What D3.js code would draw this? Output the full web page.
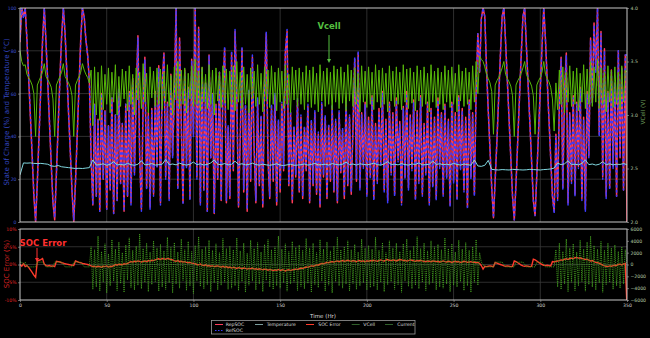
<!DOCTYPE html>
<html><head><meta charset="utf-8">
<script src="https://cdn.jsdelivr.net/npm/d3@7"></script>
<style>body{margin:0;background:#000}svg{display:block}text{font-family:"DejaVu Sans",sans-serif}</style>
</head><body><svg id="c" width="650" height="338"></svg>
<script>
// ---- DATA (hourly samples unless noted) ----
const refSOC=[85,100,95,100,86,68,50,32,14,1,18,40,62,84,100,84,66,47,28,10,2,22,44,66,86,100,88,70,51,33,15,1,18,40,62,84,100,96,85,78,66,
30,8,55,12,48,5,60,20,52,6,45,15,58,4,50,10,62,18,46,5,55,12,
60,8,66,22,58,86,30,5,55,76,15,50,6,
52,12,60,25,72,8,64,78,20,55,10,68,30,
60,100,15,85,45,8,70,25,62,10,75,40,100,20,90,8,
72,15,65,5,78,30,60,4,55,20,70,10,62,
82,10,45,12,80,25,90,60,8,40,82,15,55,6,
62,20,78,35,10,58,18,50,8,65,89,30,12,55,20,60,9,48,15,56,25,80,90,18,52,10,45,22,58,
15,50,12,45,25,55,10,48,18,52,14,42,8,56,22,50,12,46,20,55,15,48,10,52,24,44,12,58,18,50,14,45,77,20,80,
15,50,25,55,12,48,20,58,10,45,18,52,26,60,14,47,9,55,22,50,12,57,28,46,8,53,20,60,15,49,24,56,10,51,18,58,12,45,22,55,8,52,16,48,10,57,25,50,12,54,20,47,7,55,18,50,10,58,24,52,14,48,6,56,20,50,12,60,88,70,
95,100,96,72,52,34,16,2,20,38,58,78,96,100,84,66,48,30,12,1,18,38,58,78,96,100,82,64,46,28,10,3,22,42,62,82,100,85,66,48,30,12,4,
40,10,55,76,15,60,78,8,50,18,58,12,55,25,62,10,48,5,60,30,85,55,92,70,100,40,88,20,80,11,60,15,70,25,65,12,80,30,72,15,78,78];

const repSOC=[84,100,96,100,85,67,49,31,12,0,19,41,63,85,100,84,65,46,27,9,1,23,45,67,87,100,88,70,51,33,14,0,19,41,63,85,100,96,85,78,66,
30,8,55,12,48,5,60,20,52,6,45,15,58,4,50,10,62,18,46,5,55,12,
61,9,67,23,59,87,31,6,56,77,16,51,7,
53,13,61,26,73,9,65,79,21,56,11,69,31,
61,100,16,86,46,9,71,26,63,11,76,41,100,21,91,9,
72,15,65,5,78,30,60,4,55,20,70,10,62,
81,9,44,11,79,24,89,59,7,39,81,14,54,5,
61,19,77,34,9,57,17,49,7,64,88,29,11,54,19,59,8,47,14,55,24,79,89,17,51,9,44,21,57,
14,49,11,44,24,54,9,47,17,51,13,41,7,55,21,49,11,45,19,54,14,47,9,51,23,43,11,57,17,49,13,44,76,19,79,
16,51,26,56,13,49,21,59,11,46,19,53,27,61,15,48,10,56,23,51,13,58,29,47,9,54,21,61,16,50,25,57,11,52,19,59,13,46,23,56,9,53,17,49,11,58,26,51,13,55,21,48,8,56,19,51,11,59,25,53,15,49,7,57,21,51,13,61,88,70,
95,100,96,72,52,34,16,2,20,38,58,78,96,100,84,66,48,30,12,1,18,38,58,78,96,100,82,64,46,28,10,3,22,42,62,82,100,85,66,48,30,12,5,
41,11,56,77,16,61,79,9,51,19,59,13,56,26,63,11,49,6,61,31,86,56,93,71,100,41,89,21,81,12,61,16,71,26,65,12,80,30,72,15,78,0];

const vCell=[3.6,3.5,3.46,3.47,3.38,3.35,3.32,3.28,3.2,2.8,3.28,3.32,3.36,3.4,3.48,3.36,3.33,3.3,3.26,3.15,2.8,3.28,3.32,3.36,3.4,3.48,3.36,3.33,3.3,3.26,3.18,2.8,3.28,3.32,3.36,3.4,3.48,3.42,3.38,3.35,3.3,
3.42,2.9,3.45,3.0,3.4,2.95,3.46,3.05,3.38,3.1,3.44,3.02,3.4,3.12,3.47,3.0,3.36,3.08,3.43,3.15,3.41,3.04,3.46,3.1,3.38,3.0,3.44,3.14,3.4,3.06,3.48,3.12,3.39,3.02,3.45,3.16,3.41,3.08,3.44,3.1,
3.43,3.05,3.4,3.12,3.47,3.08,3.37,3.0,3.45,3.14,3.5,3.06,3.42,3.1,3.44,3.02,3.39,3.15,3.46,3.08,3.52,3.1,3.41,3.04,3.45,3.12,3.38,3.06,3.47,3.1,3.42,3.0,3.44,3.13,3.4,3.07,3.46,3.11,3.43,3.05,
3.41,3.1,3.46,3.04,3.5,3.12,3.4,3.06,3.45,3.1,3.38,3.02,3.44,3.15,3.41,3.08,3.47,3.1,3.39,3.03,3.45,3.13,3.42,3.07,3.46,3.1,3.4,3.04,3.44,3.12,3.41,3.06,3.47,3.1,3.38,3.02,3.45,3.14,3.42,3.08,
3.44,3.1,3.4,3.05,3.46,3.12,3.42,3.07,3.45,3.1,3.39,3.03,3.47,3.13,3.41,3.08,3.44,3.1,3.4,3.05,3.46,3.12,3.43,3.06,3.45,3.11,3.4,3.04,3.47,3.13,3.42,3.08,3.44,3.1,3.39,3.03,3.46,3.12,3.41,3.07,
3.45,3.1,3.4,3.05,3.47,3.12,3.42,3.07,3.44,3.1,3.39,3.03,3.46,3.13,3.41,3.08,3.45,3.1,3.4,3.05,3.47,3.12,3.43,3.06,3.44,3.11,3.4,3.04,3.46,3.13,3.42,3.08,3.45,3.1,3.39,3.03,3.47,3.12,3.41,3.07,
3.44,3.1,3.4,3.05,3.46,3.12,3.42,3.07,3.45,3.1,3.39,3.03,3.47,3.13,3.41,3.08,3.44,3.1,3.4,3.05,3.46,3.12,3.5,3.2,3.55,
3.52,3.5,3.45,3.38,3.34,3.3,3.22,2.82,3.28,3.32,3.35,3.39,3.44,3.5,3.38,3.34,3.31,3.27,3.18,2.8,3.28,3.32,3.35,3.39,3.44,3.5,3.38,3.34,3.31,3.27,3.18,2.82,3.28,3.32,3.35,3.4,3.5,3.38,3.34,3.31,3.26,3.15,2.85,
3.3,3.05,3.42,3.1,3.45,3.02,3.4,3.12,3.46,3.08,3.41,3.1,3.44,3.04,3.39,3.12,3.47,3.06,3.43,3.1,3.5,3.08,3.45,3.12,3.52,3.06,3.44,3.1,3.4,3.03,3.46,3.12,3.42,3.07,3.45,3.1,3.4,3.05,3.46,3.12,3.42,3.4];

// temperature sampled every 2 h
const temperature=[22,27.6,27.5,27.6,27.4,27.3,27.4,27.2,27.0,26.2,26.0,26.4,25.8,25.6,25.4,25.2,25.0,25.1,25.0,25.2,25.4,
29.0,26.6,26.8,27.2,26.5,27.0,28.2,26.7,26.9,26.6,27.4,26.8,26.5,27.0,28.6,26.7,26.9,27.3,26.6,26.8,
27.0,29.2,26.8,27.1,26.7,27.5,26.9,26.6,27.0,28.0,26.8,27.2,26.6,26.9,27.6,29.0,27.0,26.8,27.3,26.7,
27.0,28.4,26.9,27.2,26.7,26.9,27.5,26.8,26.6,27.0,26.7,26.5,26.8,27.2,26.6,26.4,26.7,27.0,26.5,26.6,
26.8,27.1,26.6,26.9,27.4,26.7,26.8,27.0,26.6,27.3,26.9,26.7,27.0,28.0,26.8,27.1,26.6,27.2,26.9,26.7,
27.0,27.5,26.8,26.6,27.2,28.2,26.9,27.0,26.7,27.3,26.8,26.6,27.1,26.9,27.6,26.7,26.8,27.0,28.5,26.9,
27.2,26.8,27.0,26.7,27.4,26.9,26.6,27.1,26.8,26.5,29.0,26.2,
26.0,26.5,28.8,24.6,24.4,24.3,24.5,24.4,24.3,24.6,24.5,24.4,24.3,24.4,24.6,24.5,24.4,24.3,24.5,24.6,24.8,25.2,
27.5,26.8,27.2,28.6,26.9,27.0,26.7,27.4,29.0,26.8,27.1,26.6,27.0,28.2,26.8,27.2,26.7,27.0,26.9,27.3,26.8];

const current=[400,400,0,400,-400,-400,-400,-400,-400,-400,400,400,400,400,0,-400,-400,-400,-400,-400,400,400,400,400,400,0,-400,-400,-400,-400,-400,400,400,400,400,400,0,-400,-400,-400,-400,
3000,-4200,2500,-3800,4800,-4500,2200,-3000,3500,-4800,1800,-3600,4200,-2800,2600,-4400,3800,-3200,2000,-4700,3300,-2600,4500,-3900,2400,-4300,3100,-3500,5200,-4100,2700,-3000,3600,-4600,2100,-3400,4000,-2900,2800,-4500,
3400,-3800,2300,-4200,4600,-3100,2900,-4800,3700,-3300,2100,-4000,4300,-2700,2500,-4400,3900,-3600,2200,-4900,3200,-2800,4700,-3700,2600,-4100,3000,-3400,4100,-4600,2400,-3100,3500,-4300,2000,-3500,4400,-3000,2700,-4200,
3100,-4000,2500,-3600,4500,-4400,2300,-2900,3600,-4700,1900,-3500,4100,-2800,2700,-4300,3700,-3300,2100,-4600,3400,-2700,4200,-3800,2500,-4200,3000,-3600,4800,-4000,2600,-3100,3500,-4500,2200,-3300,3900,-3000,2900,-4400,
3300,-3700,2400,-4100,4400,-3200,2800,-4700,3600,-3400,2000,-3900,4200,-2800,2600,-4500,3800,-3500,2300,-4800,3100,-2900,4600,-3600,2500,-4000,3000,-3300,4000,-4500,2500,-3200,3400,-4200,2100,-3600,4300,-3100,2800,-4300,
3200,-3900,2600,-3700,4600,-4300,2400,-3000,3700,-4600,2000,-3400,4000,-2900,2800,-4200,3600,-3400,2200,-4700,3500,-2800,4300,-3700,2400,-4100,3100,-3500,4700,-4100,2700,-3000,3600,-4400,2300,-3400,4000,-3100,3000,-4300,
3400,-3800,2500,-4000,4500,-3300,2700,-4600,3500,-3500,2100,-3800,4100,-2900,2600,-4400,3700,-3600,2400,-4700,3000,-3000,4200,-3500,2000,
400,0,-400,-400,-400,-400,-400,-400,400,400,400,400,400,0,-400,-400,-400,-400,-400,-400,400,400,400,400,400,0,-400,-400,-400,-400,-400,-400,400,400,400,400,0,-400,-400,-400,-400,-400,-400,
2500,-3800,3600,-4200,2200,-3300,4300,-4600,2800,-3000,3500,-4400,2100,-3600,4100,-2900,2600,-4500,3800,-3400,4800,-3800,3200,-4300,2600,-3100,3900,-4700,2400,-3400,3600,-3000,2800,-4200,3300,-3600,2200,-4000,3000,-3300,2500,0];

const socError=[0,-0.5,0.2,-0.6,-0.3,-0.8,-1.5,-2.2,-3.0,-3.6,1.0,1.2,1.4,1.7,0.1,-0.3,-0.4,-0.3,-0.5,-0.4,-0.6,0.9,0.8,0.7,0.5,0.4,0.2,0.1,0.0,-0.1,-0.2,-0.3,1.0,0.8,0.6,0.5,0.3,0.2,0.1,0.0,-0.2,
-0.4,-0.6,-0.5,-0.7,-0.5,-0.6,-0.8,-0.5,-0.6,-0.4,-0.7,-0.5,-0.6,-0.3,
0.0,-0.2,0.1,0.0,-0.1,0.2,0.1,0.3,
0.6,0.8,0.7,0.9,0.8,1.0,0.9,0.7,0.9,1.0,0.8,1.1,1.0,1.2,1.1,1.3,
1.5,1.6,1.4,1.7,1.6,1.5,1.7,1.6,1.4,1.3,
1.0,0.9,1.1,0.8,0.9,0.7,0.8,0.6,0.5,0.6,0.4,0.3,
0.2,0.0,-0.1,0.1,-0.2,-0.3,-0.1,-0.4,-0.3,-0.5,-0.4,-0.6,-0.5,-0.4,-0.6,
-0.7,-0.5,-0.8,-0.6,-0.9,-0.7,-1.0,-0.8,-0.9,-1.1,-0.9,-1.0,-1.2,-1.0,-1.1,-1.3,-1.1,-1.2,-1.0,-1.3,-1.2,-1.4,-1.2,-1.3,-1.5,
-1.3,-1.4,-1.6,-1.4,-1.5,-1.7,-1.5,-1.6,-1.4,-1.7,-1.5,-1.6,-1.8,-1.6,-1.5,-1.7,-1.5,-1.4,-1.3,-1.4,
-1.2,-1.0,-1.1,-0.9,-0.7,-0.8,-0.6,-0.4,-0.5,-0.3,-0.1,-0.2,0.1,0.3,0.2,0.4,0.6,0.5,0.7,0.8,
0.7,0.9,1.0,0.8,1.0,1.1,0.9,1.0,1.2,1.0,0.9,1.1,1.0,0.8,1.0,1.1,0.9,1.0,0.8,1.0,
0.9,1.1,1.0,1.2,1.0,0.9,1.1,1.3,1.1,1.0,1.2,1.4,1.2,1.1,1.3,1.2,1.0,1.2,1.4,1.3,1.1,1.2,1.0,1.1,1.3,1.2,1.0,0.9,1.1,1.0,1.2,1.0,0.9,0.8,1.0,0.9,0.8,1.0,0.9,0.8,
0.9,0.7,0.8,1.0,0.8,0.7,0.9,0.8,0.6,0.8,0.9,0.7,0.8,0.6,0.7,0.9,0.8,0.6,0.7,0.8,0.6,0.7,0.5,0.6,0.3,
-0.3,-1.3,-0.5,-0.6,-0.5,-0.4,-0.5,-0.6,0.6,0.4,0.2,0.0,-0.2,-0.4,-0.5,-0.4,-0.5,-0.6,-0.5,1.0,0.8,0.5,0.2,-0.2,-0.4,-0.5,-0.4,-0.5,-0.6,-0.5,1.5,1.3,1.0,0.6,0.3,0.0,-0.2,-0.3,-0.2,-0.3,-0.4,0.8,0.7,
0.9,1.0,1.1,1.3,1.2,1.5,1.6,1.4,1.7,1.8,1.6,1.9,2.0,1.8,1.9,1.7,1.6,1.4,1.5,1.2,1.0,1.1,0.8,0.6,0.5,0.3,0.1,-0.2,-0.4,-0.5,-0.6,-0.4,-0.5,-0.3,-0.2,-0.3,0.0,0.1,-0.1,0.2,0.3,-12];

const timeTicks=[0,50,100,150,200,250,300,350];
const socTicks=[0,20,40,60,80,100];
const vTicks=[2.0,2.5,3.0,3.5,4.0];
const errTicks=[-10,-5,0,5,10];
const curTicks=[-6000,-4000,-2000,0,2000,4000,6000];
const legendLabels=["RepSOC","Temperature","SOC Error","VCell","Current","RefSOC"];
const HOUR_STEP=1, TEMP_STEP=2;

// ---- DRAW ----
const svg=d3.select("#c");
svg.append("rect").attr("width",650).attr("height",338).attr("fill","#000");
const x=d3.scaleLinear().domain([0,350]).range([20,627]);
const ySoc=d3.scaleLinear().domain([0,100]).range([222,8]);
const yV=d3.scaleLinear().domain([2,4]).range([222,8]);
const yErr=d3.scaleLinear().domain([-10,10]).range([300,229]);
const yCur=d3.scaleLinear().domain([-6000,6000]).range([300,229]);

const defs=svg.append("defs");
defs.append("clipPath").attr("id","cTop").append("rect").attr("x",20).attr("y",8).attr("width",607).attr("height",214);
defs.append("clipPath").attr("id","cBot").append("rect").attr("x",20).attr("y",229).attr("width",607).attr("height",71);

const gridC="#3a3a3a";
const gGridTop=svg.append("g");
gGridTop.selectAll(".v").data(timeTicks.slice(1,-1)).enter().append("line")
 .attr("x1",d=>x(d)).attr("x2",d=>x(d)).attr("y1",8).attr("y2",222).attr("stroke",gridC).attr("stroke-width",0.8);
gGridTop.selectAll(".h").data(socTicks.slice(1,-1)).enter().append("line")
 .attr("x1",20).attr("x2",627).attr("y1",d=>ySoc(d)).attr("y2",d=>ySoc(d)).attr("stroke",gridC).attr("stroke-width",0.8);
const gGridBot=svg.append("g");
gGridBot.selectAll(".v").data(timeTicks.slice(1,-1)).enter().append("line")
 .attr("x1",d=>x(d)).attr("x2",d=>x(d)).attr("y1",229).attr("y2",300).attr("stroke",gridC).attr("stroke-width",0.8);
gGridBot.selectAll(".h").data(errTicks.slice(1,-1)).enter().append("line")
 .attr("x1",20).attr("x2",627).attr("y1",d=>yErr(d)).attr("y2",d=>yErr(d)).attr("stroke",gridC).attr("stroke-width",0.8);

function lineGen(scale,step){return d3.line().x((d,i)=>x(i*step)).y(d=>scale(d));}
const gTopLines=svg.append("g").attr("clip-path","url(#cTop)");
gTopLines.append("path").attr("d",lineGen(ySoc,HOUR_STEP)(repSOC)).attr("fill","none").attr("stroke","#ff3c5a").attr("stroke-width",1.5).attr("stroke-linejoin","round");
gTopLines.append("path").attr("d",lineGen(ySoc,HOUR_STEP)(refSOC)).attr("fill","none").attr("stroke","#3c3cff").attr("stroke-width",1.5).attr("stroke-dasharray","2.5,2.5").attr("stroke-linejoin","round");
gTopLines.append("path").attr("d",lineGen(ySoc,TEMP_STEP)(temperature)).attr("fill","none").attr("stroke","#80d8e0").attr("stroke-width",1);
gTopLines.append("path").attr("d",lineGen(yV,HOUR_STEP)(vCell)).attr("fill","none").attr("stroke","#56b80a").attr("stroke-width",1).attr("stroke-linejoin","round");

const gBotLines=svg.append("g").attr("clip-path","url(#cBot)");
gBotLines.append("path").attr("d",lineGen(yErr,HOUR_STEP)(socError)).attr("fill","none").attr("stroke","#ff3b2b").attr("stroke-width",1.4);
gBotLines.append("path").attr("d",lineGen(yCur,HOUR_STEP)(current)).attr("fill","none").attr("stroke","#45a420").attr("stroke-width",0.9).attr("stroke-dasharray","1,0.9");

svg.append("rect").attr("x",20).attr("y",8).attr("width",607).attr("height",214).attr("fill","none").attr("stroke","#c8c8c8").attr("stroke-width",1);
svg.append("rect").attr("x",20).attr("y",229).attr("width",607).attr("height",71).attr("fill","none").attr("stroke","#c8c8c8").attr("stroke-width",1);

function styleAxis(g,color){
  g.select(".domain").remove();
  g.selectAll(".tick line").attr("stroke","#aaa").attr("stroke-width",0.6);
  g.selectAll(".tick text").attr("fill",color).attr("font-size",4.6).attr("font-family","DejaVu Sans");
}
styleAxis(svg.append("g").attr("transform","translate(20,0)").call(d3.axisLeft(ySoc).tickValues(socTicks).tickSize(2).tickPadding(1.5).tickFormat(d3.format("d"))),"#3b4fd0");
styleAxis(svg.append("g").attr("transform","translate(627,0)").call(d3.axisRight(yV).tickValues(vTicks).tickSize(2).tickPadding(1.5).tickFormat(d3.format(".1f"))),"#b4c8a4");
styleAxis(svg.append("g").attr("transform","translate(20,0)").call(d3.axisLeft(yErr).tickValues(errTicks).tickSize(2).tickPadding(1.5).tickFormat(d=>d+"%")),"#e02424");
styleAxis(svg.append("g").attr("transform","translate(627,0)").call(d3.axisRight(yCur).tickValues(curTicks).tickSize(2).tickPadding(1.5).tickFormat(d=>d<0?"\u2212"+Math.abs(d):String(d))),"#b4c8a4");
styleAxis(svg.append("g").attr("transform","translate(0,300)").call(d3.axisBottom(x).tickValues(timeTicks).tickSize(2).tickPadding(1.5).tickFormat(d3.format("d"))),"#d0d0d0");

svg.append("text").attr("x",323).attr("y",318).attr("text-anchor","middle").attr("font-size",5.5).attr("fill","#dddddd").text("Time (Hr)");
svg.append("text").attr("transform","translate(9,112) rotate(-90)").attr("text-anchor","middle").attr("font-size",7).attr("fill","#3447c0").text("State of Charge (%) and Temperature (°C)");
svg.append("text").attr("transform","translate(9,264) rotate(-90)").attr("text-anchor","middle").attr("font-size",7).attr("fill","#d42020").text("SOC Error (%)");
svg.append("text").attr("transform","translate(645,112) rotate(-90)").attr("text-anchor","middle").attr("font-size",5.8).attr("fill","#6a9a5a").text("VCell (V)");

function arrow(x0,y0,y1,color){
  svg.append("line").attr("x1",x0).attr("x2",x0).attr("y1",y0).attr("y2",y1-3).attr("stroke",color).attr("stroke-width",1);
  svg.append("path").attr("d",`M${x0-2},${y1-4} L${x0+2},${y1-4} L${x0},${y1} Z`).attr("fill",color);
}
svg.append("text").attr("x",329).attr("y",29).attr("text-anchor","middle").attr("font-family","Liberation Sans").attr("font-weight","bold").attr("font-size",8.5).attr("fill","#55c040").text("Vcell");
arrow(329,35,63,"#55c040");
svg.append("text").attr("x",43).attr("y",246).attr("text-anchor","middle").attr("font-family","Liberation Sans").attr("font-weight","bold").attr("font-size",8.5).attr("fill","#ff3030").text("SOC Error");
arrow(37,248,262,"#ff3030");

const lg=svg.append("g");
lg.append("rect").attr("x",211.5).attr("y",320.5).attr("width",203.5).attr("height",13.5).attr("fill","#000").attr("stroke","#999").attr("stroke-width",0.8);
const legStyles=[
 {c:"#ff3c5a",d:null,lx:215,tx:225.7,y:324.5},
 {c:"#7a9c9c",d:null,lx:255,tx:266.7,y:324.5},
 {c:"#ff3b2b",d:null,lx:306,tx:318.3,y:324.5},
 {c:"#2f5f2a",d:null,lx:351.7,tx:363.3,y:324.5},
 {c:"#2f5f2a",d:null,lx:385,tx:397.3,y:324.5},
 {c:"#3c3cff",d:"1.5,1.5",lx:215,tx:225.7,y:330.5}];
legendLabels.forEach((lab,i)=>{
  const s=legStyles[i];
  lg.append("line").attr("x1",s.lx).attr("x2",s.lx+8).attr("y1",s.y).attr("y2",s.y).attr("stroke",s.c).attr("stroke-width",1).attr("stroke-dasharray",s.d);
  lg.append("text").attr("x",s.tx).attr("y",s.y+1.6).attr("font-size",4.6).attr("fill","#dddddd").text(lab);
});
</script></body></html>
